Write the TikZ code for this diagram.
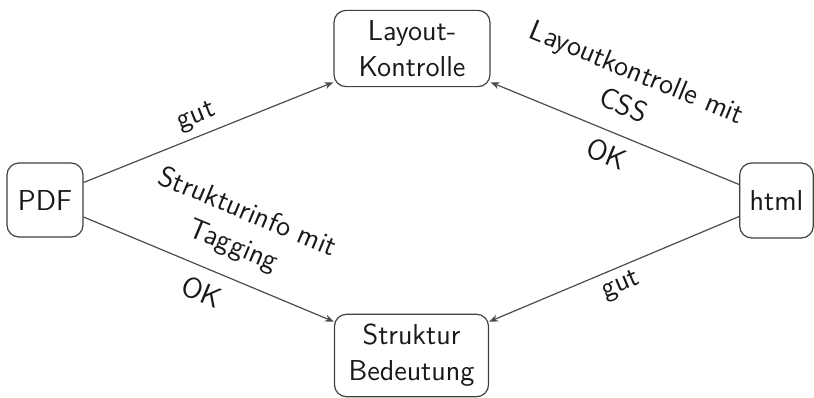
\documentclass[tikz,border=0pt]{standalone}
\usetikzlibrary{arrows.meta}
\begin{document}
\begin{tikzpicture}[x=0.5pt,y=-0.5pt,
  box/.style={draw=black!75,line width=0.6pt,rounded corners=6pt,align=center,
    font=\sffamily\Large,inner sep=5pt,text=black!90},
  conn/.style={draw=black!70,line width=0.6pt,-{Stealth[length=4.5pt,width=3.5pt]}},
  lbl/.style={font=\sffamily\Large,sloped,align=center,text=black!90}]
\useasboundingbox (0,0) rectangle (814,397);
\node[box,minimum width=38pt,minimum height=37pt] (pdf) at (45,200) {PDF};
\node[box,minimum width=36.5pt,minimum height=37.5pt] (html) at (776.5,200.5) {html};
\node[box,minimum width=78pt] (lay) at (412,48.5) {Layout-\\Kontrolle};
\node[box,minimum width=77pt] (str) at (411.5,355.5) {Struktur\\Bedeutung};
\draw[conn] ([yshift=8.75pt]pdf.east) -- ([yshift=2.5pt]lay.south west)
  node[lbl,pos=0.48,above] {gut};
\draw[conn] ([yshift=-8.5pt]pdf.east) -- ([yshift=-4pt]str.north west)
  node[lbl,pos=0.55,above=5pt] {Strukturinfo mit\\Tagging}
  node[lbl,pos=0.51,below=3pt] {OK};
\draw[conn] ([yshift=8pt]html.west) -- ([yshift=2.5pt]lay.south east)
  node[lbl,pos=0.51,above=6pt] {Layoutkontrolle mit\\CSS}
  node[lbl,pos=0.5,below=2pt] {OK};
\draw[conn] ([yshift=-8pt]html.west) -- ([yshift=-4pt]str.north east)
  node[lbl,pos=0.5,below] {gut};
\end{tikzpicture}
\end{document}
